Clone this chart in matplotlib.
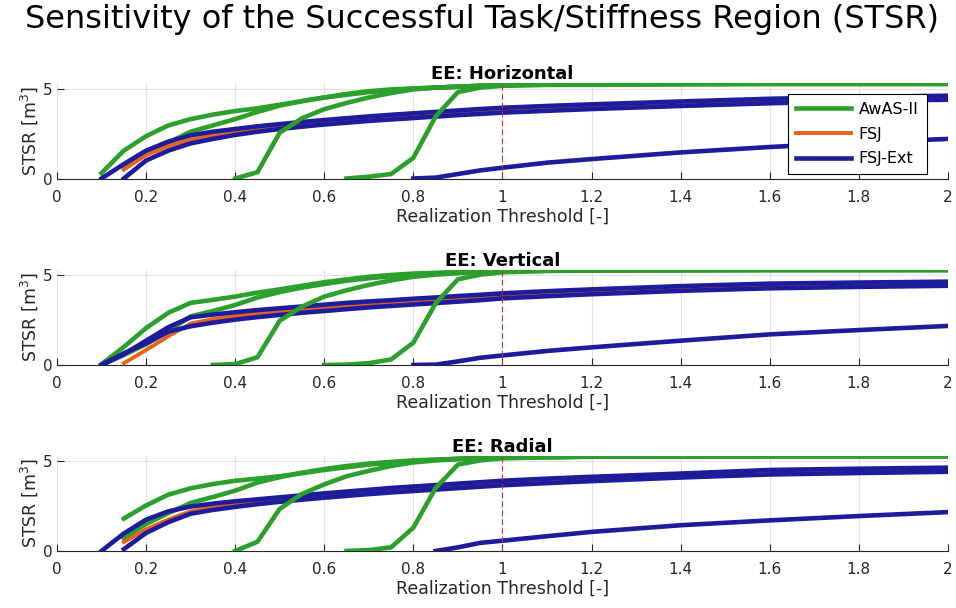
import numpy as np
import matplotlib
matplotlib.use("Agg")
import matplotlib.pyplot as plt
from matplotlib.ticker import FuncFormatter

N = np.nan

# realization threshold samples
THRESH = [0.1, 0.15, 0.2, 0.25, 0.3, 0.35, 0.4, 0.45, 0.5, 0.55, 0.6, 0.65, 0.7,
          0.75, 0.8, 0.85, 0.9, 0.95, 1.0, 1.1, 1.2, 1.4, 1.6, 1.8, 2.0]

TITLES = ["EE: Horizontal", "EE: Vertical", "EE: Radial"]
SERIES = ["AwAS-II", "FSJ", "FSJ-Ext"]

# --- EE: Horizontal ---
h_green_a = [0.3, 1.55, 2.35, 2.95, 3.3, 3.55, 3.75, 3.9, 4.1, 4.3, 4.5, 4.65, 4.8,
             4.9, 5.0, 5.05, 5.1, 5.15, 5.2, 5.22, 5.23, 5.25, 5.26, 5.26, 5.26]
h_green_b = [N, 0.6, 1.4, 2.0, 2.6, 2.95, 3.3, 3.7, 4.05, 4.3, 4.5, 4.7, 4.85,
             4.95, 5.0, 5.05, 5.1, 5.15, 5.2, 5.22, 5.23, 5.25, 5.26, 5.26, 5.26]
h_green_c = [N, N, N, N, N, N, 0.0, 0.35, 2.55, 3.35, 3.85, 4.2, 4.5,
             4.75, 4.95, 5.05, 5.1, 5.15, 5.2, 5.22, 5.23, 5.25, 5.26, 5.26, 5.26]
h_green_d = [N, N, N, N, N, N, N, N, N, N, N, 0.0, 0.1,
             0.25, 1.15, 3.45, 4.8, 5.05, 5.15, 5.2, 5.22, 5.25, 5.26, 5.26, 5.26]
h_orange = [N, 0.5, 1.3, 1.8, 2.15, 2.4, 2.6, 2.75, 2.9, 3.0, 3.12, 3.22, 3.32,
            3.42, 3.5, 3.58, 3.65, 3.72, 3.8, 3.9, 3.98, 4.15, 4.3, 4.42, 4.5]
h_blue_a = [0.0, 0.8, 1.55, 2.05, 2.4, 2.6, 2.75, 2.9, 3.02, 3.14, 3.25, 3.35, 3.45,
            3.54, 3.62, 3.7, 3.78, 3.86, 3.93, 4.03, 4.12, 4.28, 4.43, 4.53, 4.6]
h_blue_b = [N, 0.0, 1.0, 1.55, 1.95, 2.2, 2.42, 2.6, 2.75, 2.88, 3.0, 3.1, 3.2,
            3.28, 3.36, 3.44, 3.52, 3.59, 3.66, 3.76, 3.86, 4.03, 4.18, 4.3, 4.38]
h_blue_c = [N, N, N, N, N, N, N, N, N, N, N, N, N,
            N, 0.0, 0.05, 0.25, 0.45, 0.6, 0.88, 1.08, 1.45, 1.75, 2.0, 2.2]

# --- EE: Vertical ---
v_green_a = [0.05, 1.0, 2.05, 2.9, 3.45, 3.62, 3.8, 4.02, 4.2, 4.4, 4.6, 4.75, 4.9,
             5.0, 5.08, 5.12, 5.17, 5.2, 5.23, 5.25, 5.26, 5.27, 5.28, 5.28, 5.28]
v_green_b = [0.0, 0.55, 1.15, 1.9, 2.7, 3.0, 3.33, 3.75, 4.05, 4.3, 4.5, 4.68, 4.82,
             4.93, 5.02, 5.08, 5.13, 5.17, 5.22, 5.24, 5.25, 5.27, 5.28, 5.28, 5.28]
v_green_c = [N, N, N, N, N, 0.0, 0.05, 0.43, 2.46, 3.24, 3.8, 4.15, 4.45,
             4.7, 4.9, 5.02, 5.1, 5.17, 5.22, 5.24, 5.25, 5.27, 5.28, 5.28, 5.28]
v_green_d = [N, N, N, N, N, N, N, N, N, N, 0.0, 0.02, 0.1,
             0.31, 1.24, 3.43, 4.76, 5.02, 5.15, 5.22, 5.25, 5.27, 5.28, 5.28, 5.28]
v_orange = [N, 0.1, 0.83, 1.6, 2.3, 2.55, 2.72, 2.85, 2.97, 3.08, 3.18, 3.28, 3.38,
            3.47, 3.55, 3.62, 3.7, 3.78, 3.85, 3.95, 4.05, 4.25, 4.38, 4.45, 4.52]
v_blue_a = [0.0, 0.6, 1.35, 2.1, 2.65, 2.8, 2.93, 3.05, 3.15, 3.25, 3.35, 3.45, 3.53,
            3.6, 3.68, 3.75, 3.83, 3.9, 3.98, 4.1, 4.2, 4.38, 4.52, 4.58, 4.63]
v_blue_b = [0.0, 0.65, 1.2, 1.85, 2.15, 2.35, 2.52, 2.66, 2.78, 2.9, 3.0, 3.1, 3.2,
            3.28, 3.36, 3.44, 3.52, 3.6, 3.7, 3.82, 3.93, 4.12, 4.26, 4.34, 4.4]
v_blue_c = [N, N, N, N, N, N, N, N, N, N, N, N, N,
            N, 0.0, 0.02, 0.2, 0.4, 0.53, 0.78, 0.98, 1.35, 1.7, 1.94, 2.17]

# --- EE: Radial ---
r_green_a = [N, 1.8, 2.53, 3.13, 3.48, 3.72, 3.9, 4.02, 4.15, 4.32, 4.5, 4.65, 4.8,
             4.9, 5.0, 5.06, 5.12, 5.17, 5.2, 5.22, 5.24, 5.26, 5.27, 5.27, 5.27]
r_green_b = [N, 0.7, 1.5, 2.1, 2.67, 3.0, 3.35, 3.8, 4.1, 4.35, 4.55, 4.72, 4.85,
             4.95, 5.03, 5.08, 5.12, 5.17, 5.2, 5.22, 5.24, 5.26, 5.27, 5.27, 5.27]
r_green_c = [N, N, N, N, N, N, 0.0, 0.51, 2.34, 3.17, 3.7, 4.15, 4.45,
             4.72, 4.92, 5.03, 5.1, 5.16, 5.2, 5.22, 5.24, 5.26, 5.27, 5.27, 5.27]
r_green_d = [N, N, N, N, N, N, N, N, N, N, N, 0.0, 0.05,
             0.2, 1.3, 3.5, 4.8, 5.03, 5.15, 5.2, 5.24, 5.26, 5.27, 5.27, 5.27]
r_orange = [N, 0.5, 1.2, 1.75, 2.2, 2.45, 2.62, 2.77, 2.9, 3.01, 3.12, 3.22, 3.32,
            3.42, 3.5, 3.58, 3.65, 3.73, 3.8, 3.92, 4.02, 4.2, 4.37, 4.44, 4.5]
r_blue_a = [0.0, 0.97, 1.74, 2.2, 2.47, 2.63, 2.76, 2.87, 2.98, 3.09, 3.2, 3.3, 3.4,
            3.5, 3.58, 3.66, 3.74, 3.82, 3.9, 4.02, 4.12, 4.3, 4.5, 4.57, 4.63]
r_blue_b = [N, 0.1, 1.0, 1.6, 2.07, 2.28, 2.45, 2.6, 2.73, 2.85, 2.96, 3.06, 3.16,
            3.25, 3.33, 3.41, 3.49, 3.57, 3.65, 3.77, 3.88, 4.08, 4.25, 4.33, 4.4]
r_blue_c = [N, N, N, N, N, N, N, N, N, N, N, N, N,
            N, N, 0.0, 0.2, 0.45, 0.57, 0.82, 1.06, 1.43, 1.7, 1.94, 2.16]

PANELS = [
    (h_green_a, h_green_b, h_green_c, h_green_d, h_orange, h_blue_a, h_blue_b, h_blue_c),
    (v_green_a, v_green_b, v_green_c, v_green_d, v_orange, v_blue_a, v_blue_b, v_blue_c),
    (r_green_a, r_green_b, r_green_c, r_green_d, r_orange, r_blue_a, r_blue_b, r_blue_c),
]

GREEN = "#2ca02c"
ORANGE = "#e8621a"
BLUE = "#1c1c9c"
DARK = "#262626"
LW = 3.3


def draw_panel(ax, curves, title, with_legend):
    ga, gb, gc, gd, org, ba, bb, bc = curves
    x = np.array(THRESH)
    ax.plot(x, ga, color=GREEN, lw=LW, label=SERIES[0], zorder=2)
    ax.plot(x, gb, color=GREEN, lw=LW, zorder=2)
    ax.plot(x, org, color=ORANGE, lw=2.8, label=SERIES[1], zorder=3)
    ax.plot(x, ba, color=BLUE, lw=LW, label=SERIES[2], zorder=4)
    ax.plot(x, bb, color=BLUE, lw=LW, zorder=4)
    ax.plot(x, gc, color=GREEN, lw=LW, zorder=5)
    ax.plot(x, gd, color=GREEN, lw=LW, zorder=5)
    ax.plot(x, bc, color=BLUE, lw=LW, zorder=5)
    ax.axvline(1.0, color="#d62728", lw=0.8, ls=(0, (5, 3)), zorder=6)

    ax.set_xlim(0, 2)
    ax.set_ylim(0, 5.3)
    ax.set_xticks(np.arange(0, 2.01, 0.2))
    ax.set_yticks([0, 5])
    ax.xaxis.set_major_formatter(FuncFormatter(lambda v, p: "%g" % round(v, 2)))
    ax.grid(True, color="#e2e2e2", lw=0.8)
    ax.set_axisbelow(True)
    for side in ["top", "right", "left"]:
        ax.spines[side].set_visible(False)
    ax.spines["bottom"].set_color(DARK)
    ax.spines["bottom"].set_linewidth(0.8)
    ax.tick_params(direction="in", length=5, width=0.8, color=DARK,
                   labelcolor=DARK, labelsize=11)
    ax.tick_params(axis="x", pad=8)
    ax.tick_params(axis="y", pad=3)
    ax.set_xlabel("Realization Threshold [-]", fontsize=12.5, color=DARK, labelpad=2)
    ax.set_ylabel("STSR [m$^3$]", fontsize=12.5, color=DARK, labelpad=2)
    ax.set_title(title, fontsize=13, fontweight="bold", pad=2)
    if with_legend:
        leg = ax.legend(loc="upper right", bbox_to_anchor=(0.976, 0.886),
                        borderaxespad=0, fontsize=11.5, handlelength=3.4,
                        handletextpad=0.5, borderpad=0.5,
                        fancybox=False, framealpha=1, edgecolor="black",
                        labelspacing=0.6)
        leg.get_frame().set_linewidth(0.8)
        leg.set_zorder(10)


fig = plt.figure(figsize=(9.56, 6.08), dpi=100)
bottoms = [0.7064, 0.3997, 0.0938]
for i in range(3):
    ax = fig.add_axes([0.0596, bottoms[i], 0.932, 0.1569])
    draw_panel(ax, PANELS[i], TITLES[i], i == 0)

fig.text(0.504, 0.954, "Sensitivity of the Successful Task/Stiffness Region (STSR)",
         ha="center", va="baseline", fontsize=23)

fig.savefig("out.png", dpi=100)
